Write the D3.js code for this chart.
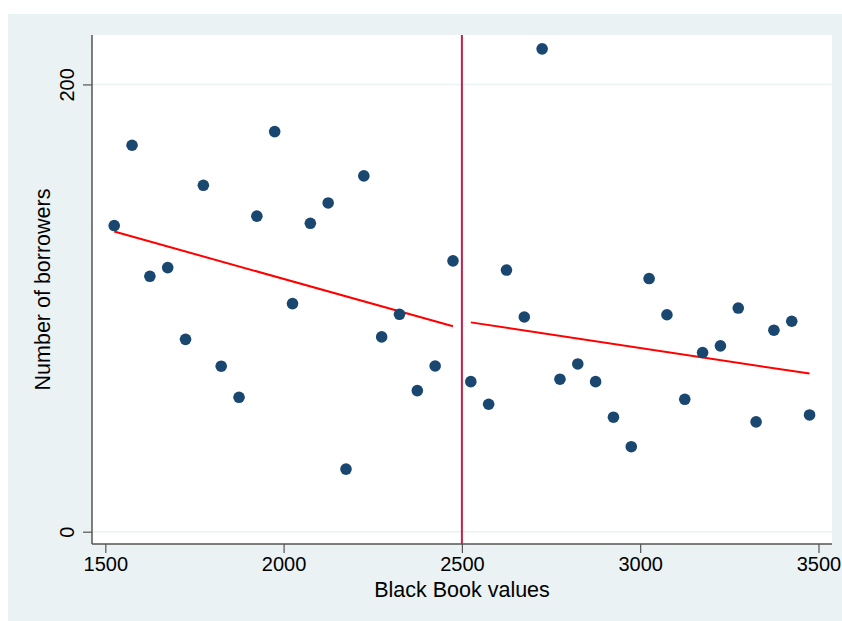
<!DOCTYPE html>
<html>
<head>
<meta charset="utf-8">
<script src="https://cdn.jsdelivr.net/npm/d3@7"></script>
<style>
  body { margin: 0; background: #fff; }
  text { font-family: "Liberation Sans", Arial, sans-serif; fill: #000; }
</style>
</head>
<body>
<div id="chart"></div>
<script>
// chart size
var svgWidth = 842;
var svgHeight = 621;

// plot region inside the svg
var plot = { left: 92, top: 35, right: 832, bottom: 544 };

// data: Black Book values (x) vs number of borrowers (y)
var bookValues = [1525, 1575, 1625, 1675, 1725, 1775, 1825, 1875, 1925, 1975,
  2025, 2075, 2125, 2175, 2225, 2275, 2325, 2375, 2425, 2475,
  2525, 2575, 2625, 2675, 2725, 2775, 2825, 2875, 2925, 2975,
  3025, 3075, 3125, 3175, 3225, 3275, 3325, 3375, 3425, 3475];
var borrowers = [136.9, 172.8, 114.2, 118.1, 86.0, 154.9, 74.0, 60.1, 141.1, 178.9,
  102.0, 137.9, 147.0, 28.0, 159.1, 87.1, 97.2, 63.1, 74.1, 121.1,
  67.1, 57.0, 117.0, 96.0, 215.9, 68.2, 75.0, 67.1, 51.2, 38.0,
  113.2, 97.0, 59.2, 80.1, 83.1, 100.0, 49.1, 90.1, 94.1, 52.2];

// fitted lines on each side of the cutoff
var fitLeft = [[1525, 134.2], [2475, 91.9]];
var fitRight = [[2525, 93.6], [3475, 70.7]];
var cutoff = 2500;

var xTicks = [1500, 2000, 2500, 3000, 3500];
var yTicks = [0, 200];

var svg = d3.select("#chart")
  .append("svg")
  .attr("width", svgWidth)
  .attr("height", svgHeight);

// outer background
svg.append("rect")
  .attr("x", 8).attr("y", 14)
  .attr("width", svgWidth - 8).attr("height", svgHeight - 14)
  .attr("fill", "#eaf2f3");

// plot region
svg.append("rect")
  .attr("x", plot.left).attr("y", plot.top)
  .attr("width", plot.right - plot.left).attr("height", plot.bottom - plot.top)
  .attr("fill", "#fff");

var xScale = d3.scaleLinear()
  .domain([1462.7, 3537.9])
  .range([plot.left, plot.right]);

var yScale = d3.scaleLinear()
  .domain([-5.5, 222.1])
  .range([plot.bottom, plot.top]);

// gridlines
svg.append("g")
  .selectAll("line")
  .data(yTicks)
  .enter()
  .append("line")
  .attr("x1", plot.left).attr("x2", plot.right)
  .attr("y1", d => yScale(d)).attr("y2", d => yScale(d))
  .attr("stroke", "#eaf2f3")
  .attr("stroke-width", 1.5);

// x axis
var xAxis = svg.append("g")
  .attr("transform", `translate(0, ${plot.bottom})`)
  .call(d3.axisBottom(xScale).tickValues(xTicks).tickFormat(d3.format("d"))
    .tickSize(9).tickPadding(4).tickSizeOuter(0));

// y axis
var yAxis = svg.append("g")
  .attr("transform", `translate(${plot.left}, 0)`)
  .call(d3.axisLeft(yScale).tickValues(yTicks).tickFormat(d3.format("d"))
    .tickSize(9).tickSizeOuter(0));

[xAxis, yAxis].forEach(function(ax) {
  ax.select(".domain").attr("stroke", "#555").attr("stroke-width", 1.5);
  ax.selectAll(".tick line").attr("stroke", "#555").attr("stroke-width", 1.2);
  ax.selectAll("text")
    .style("font-family", "'Liberation Sans', Arial, sans-serif")
    .style("font-size", "20px")
    .attr("fill", "#000");
});

// domain lines span the whole plot region
xAxis.select(".domain").attr("d", `M${plot.left},0H${plot.right}`);
yAxis.select(".domain").attr("d", `M0,${plot.top}V${plot.bottom}`);

// y tick labels rotated
yAxis.selectAll(".tick text")
  .attr("x", null).attr("dy", null)
  .attr("text-anchor", "middle")
  .attr("transform", "translate(-18, 0) rotate(-90)");

// cutoff line
svg.append("line")
  .attr("x1", xScale(cutoff)).attr("x2", xScale(cutoff))
  .attr("y1", plot.top).attr("y2", plot.bottom)
  .attr("stroke", "#c41e4a")
  .attr("stroke-width", 2);

// fitted lines
var line = d3.line()
  .x(d => xScale(d[0]))
  .y(d => yScale(d[1]));

[fitLeft, fitRight].forEach(function(f) {
  svg.append("path")
    .attr("d", line(f))
    .attr("fill", "none")
    .attr("stroke", "#ff0000")
    .attr("stroke-width", 2);
});

// points
svg.append("g")
  .selectAll("circle")
  .data(bookValues)
  .enter()
  .append("circle")
  .attr("cx", d => xScale(d))
  .attr("cy", (d, i) => yScale(borrowers[i]))
  .attr("r", 5.8)
  .attr("fill", "#1a476f");

// axis titles
svg.append("text")
  .attr("x", (plot.left + plot.right) / 2)
  .attr("y", 597)
  .attr("text-anchor", "middle")
  .style("font-size", "21.5px")
  .text("Black Book values");

svg.append("text")
  .attr("transform", `translate(50, ${(plot.top + plot.bottom) / 2}) rotate(-90)`)
  .attr("text-anchor", "middle")
  .style("font-size", "21.5px")
  .text("Number of borrowers");
</script>
</body>
</html>
